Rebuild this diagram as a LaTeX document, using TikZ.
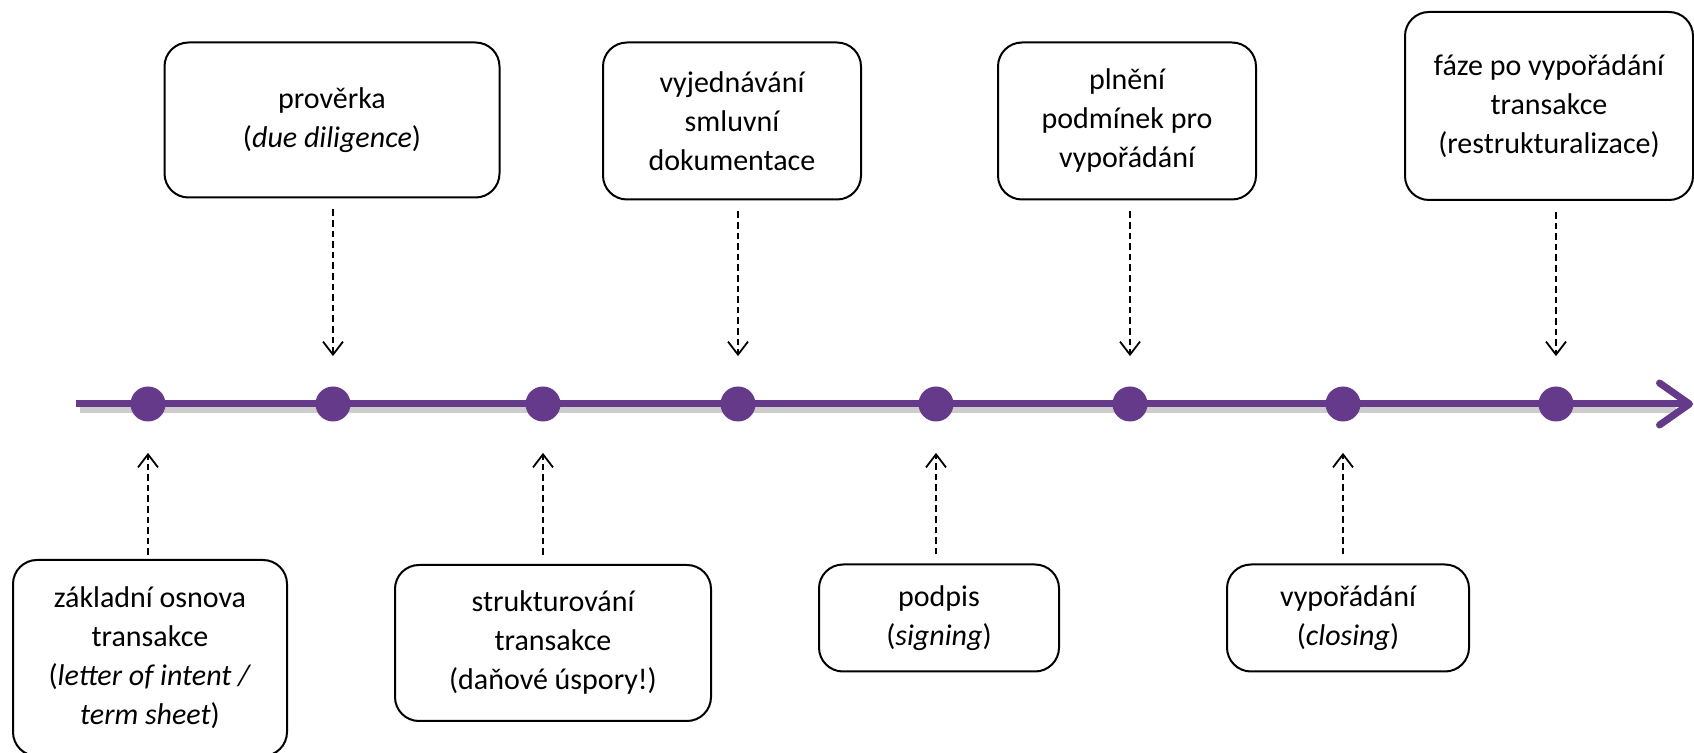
\documentclass[tikz,border=0pt]{standalone}
\usepackage{fontspec}
\setmainfont{Carlito}
\usetikzlibrary{arrows.meta}
\definecolor{timeline}{RGB}{102,58,138}

\begin{document}
\begin{tikzpicture}[x=0.5pt,y=-0.5pt,
	box/.style={draw, line width=1pt, rounded corners=12pt, align=center, inner sep=0pt, font=\fontsize{15}{19.5}\selectfont},
	dot/.style={circle, fill=timeline, minimum size=17.5pt, inner sep=0pt},
	link/.style={dashed, dash pattern=on 3.3pt off 2pt, line width=0.9pt, -{Straight Barb[length=6.5pt,width=10pt]}}]
	\useasboundingbox (0,0) rectangle (1694,753);

	% the time axis
	\coordinate (start) at (76,404);
	\coordinate (end) at (1693,404);
	\coordinate (sstart) at (80,409);
	\coordinate (send) at (1676,409);
	\draw[line width=4pt, black!20] (sstart) -- (send);
	\draw[line width=3.5pt, timeline, -{Straight Barb[length=15pt,width=21pt,round]}] (start) -- (end);
	\foreach \x [count=\i] in {148,333,543,738,936,1130,1343,1556}
		\node[dot] (d\i) at (\x,404) {};

	% phases above
	\node[box, minimum width=167.5pt, minimum height=77.5pt] (proverka) at (332,120) {prověrka\\(\textit{due diligence})};
	\node[box, minimum width=129pt, minimum height=78.5pt] (vyjednani) at (732,121) {vyjednávání\\smluvní\\dokumentace};
	\node[box, minimum width=129pt, minimum height=78.5pt] (plneni) at (1127,121) {plnění\\podmínek pro\\vypořádání};
	\node[box, minimum width=144pt, minimum height=94pt] (faze) at (1549,106) {fáze po vypořádání\\transakce\\(restrukturalizace)};

	% phases below
	\node[box, minimum width=137pt, minimum height=98pt] (osnova) at (150,658) {základní osnova\\transakce\\(\textit{letter of intent /}\\\textit{term sheet})};
	\node[box, minimum width=158pt, minimum height=78pt] (struktura) at (553,643) {strukturování\\transakce\\(daňové úspory!)};
	\node[box, minimum width=120pt, minimum height=53.5pt] (podpis) at (939,618) {podpis\\(\textit{signing})};
	\node[box, minimum width=121pt, minimum height=53.5pt] (vyporadani) at (1348,618) {vypořádání\\(\textit{closing})};

	\draw[link, shorten <=5.5pt, shorten >=15pt] (proverka.south -| d2) -- (d2);
	\draw[link, shorten <=5.5pt, shorten >=15pt] (vyjednani.south -| d4) -- (d4);
	\draw[link, shorten <=5.5pt, shorten >=15pt] (plneni.south -| d6) -- (d6);
	\draw[link, shorten <=5.5pt, shorten >=15pt] (faze.south -| d8) -- (d8);

	\draw[link, shorten <=2pt, shorten >=15.5pt] (osnova.north -| d1) -- (d1);
	\draw[link, shorten <=4.5pt, shorten >=15.5pt] (struktura.north -| d3) -- (d3);
	\draw[link, shorten <=4.5pt, shorten >=15.5pt] (podpis.north -| d5) -- (d5);
	\draw[link, shorten <=4.5pt, shorten >=15.5pt] (vyporadani.north -| d7) -- (d7);
\end{tikzpicture}
\end{document}
